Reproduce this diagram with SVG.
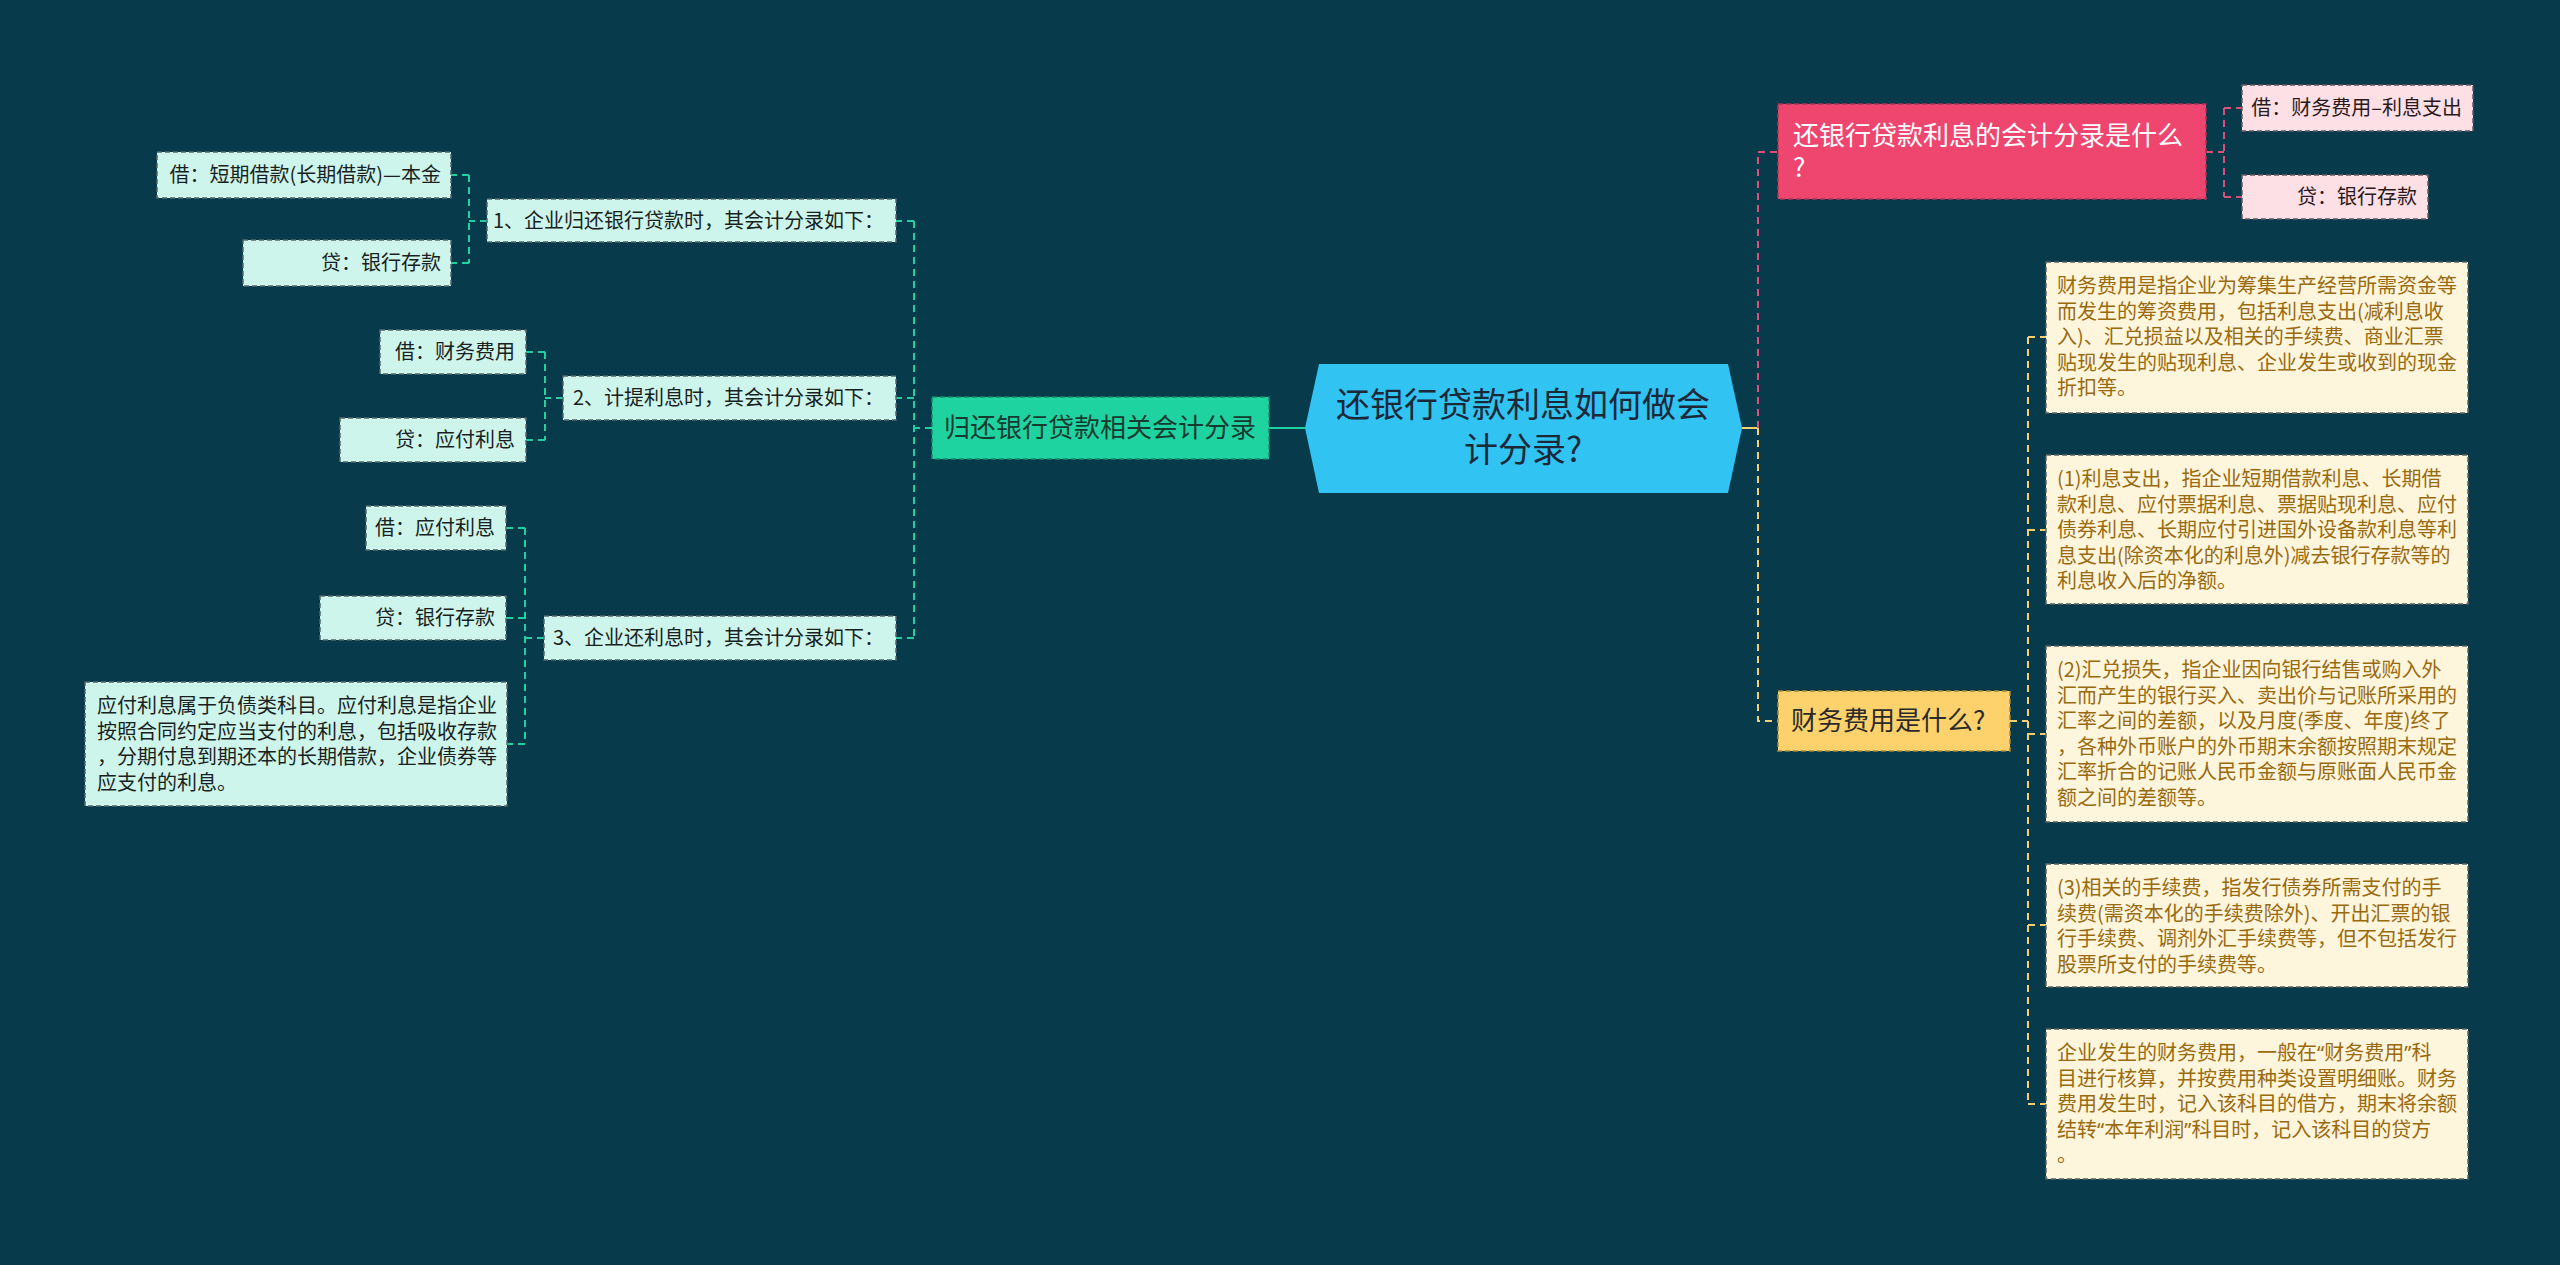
<svg xmlns="http://www.w3.org/2000/svg" width="2560" height="1265" viewBox="0 0 2560 1265">
<style>
text{font-family:"Noto Sans CJK SC","Noto Sans",sans-serif;}
.q{font-family:"Noto Sans",sans-serif;}
.cy rect{fill:#cdf5ec;stroke:#55676b;stroke-width:1.5;stroke-dasharray:5 3;}
.cy text{font-size:20px;fill:#1a1f22;}
.cr rect{fill:#fdf5dc;stroke:#5e6460;stroke-width:1.5;stroke-dasharray:5 3;}
.cr text{font-size:20px;fill:#9a6a0e;}
.pk rect{fill:#fde0e6;stroke:#6a5a60;stroke-width:1.5;stroke-dasharray:5 3;}
.pk text{font-size:20px;fill:#2a1a20;}
.tl{fill:none;stroke:#22cfa2;stroke-width:2;stroke-dasharray:7 5;}
.pl{fill:none;stroke:#dc4f78;stroke-width:2;stroke-dasharray:7 5;}
.yl{fill:none;stroke:#f6d070;stroke-width:2;stroke-dasharray:7 5;}
</style>
<rect x="0" y="0" width="2560" height="1265" fill="#073a4b"/>

<g id="connectors">
  <line x1="1269" y1="428" x2="1305" y2="428" stroke="#22cfa2" stroke-width="2"/>
  <line x1="1742" y1="428" x2="1758" y2="428" stroke="#f6d070" stroke-width="2"/>
  <path class="tl" d="M932 428H914M914 221V638M914 221H896M914 398H896M914 638H896"/>
  <path class="tl" d="M487 221H469M469 175V263M469 175H451M469 263H451"/>
  <path class="tl" d="M563 398H545M545 352V440M545 352H526M545 440H526"/>
  <path class="tl" d="M544 638H525M525 528V744M525 528H506M525 618H506M525 744H507"/>
  <path class="pl" d="M1758 428V152H1778M2206 152H2224M2224 108V197M2224 108H2242M2224 197H2242"/>
  <path class="yl" d="M1758 428V721H1778M2010 721H2028M2028 337V1104M2028 337H2046M2028 530H2046M2028 734H2046M2028 925H2046M2028 1104H2046"/>
</g>

<g id="central">
  <polygon points="1305,428 1319,364 1728,364 1742,428 1728,493 1319,493" fill="#31c3f2"/>
  <text x="1523" y="417" font-size="34" fill="#1b2838" text-anchor="middle">还银行贷款利息如何做会</text>
  <text x="1523" y="462" font-size="34" fill="#1b2838" text-anchor="middle">计分录?</text>
</g>

<g id="n-green">
  <rect x="932" y="397" width="337" height="62" fill="#1fd3a0" stroke="#178a6c" stroke-width="1.5" stroke-dasharray="5 3"/>
  <text x="1100" y="437" font-size="26" fill="#163a30" text-anchor="middle">归还银行贷款相关会计分录</text>
</g>

<g id="n-l1" class="cy"><rect x="487" y="199" width="409" height="43"/><text x="884" y="228" text-anchor="end">1、企业归还银行贷款时，其会计分录如下：</text></g>
<g id="n-l2" class="cy"><rect x="563" y="376" width="333" height="44"/><text x="884" y="405" text-anchor="end">2、计提利息时，其会计分录如下：</text></g>
<g id="n-l3" class="cy"><rect x="544" y="616" width="352" height="44"/><text x="884" y="645" text-anchor="end">3、企业还利息时，其会计分录如下：</text></g>

<g id="n-l1a" class="cy"><rect x="157" y="152" width="294" height="46"/><text x="441" y="182" text-anchor="end">借：短期借款(长期借款)—本金</text></g>
<g id="n-l1b" class="cy"><rect x="243" y="240" width="208" height="46"/><text x="441" y="270" text-anchor="end">贷：银行存款</text></g>
<g id="n-l2a" class="cy"><rect x="380" y="330" width="146" height="44"/><text x="515" y="359" text-anchor="end">借：财务费用</text></g>
<g id="n-l2b" class="cy"><rect x="340" y="418" width="186" height="44"/><text x="515" y="447" text-anchor="end">贷：应付利息</text></g>
<g id="n-l3a" class="cy"><rect x="366" y="506" width="140" height="44"/><text x="495" y="535" text-anchor="end">借：应付利息</text></g>
<g id="n-l3b" class="cy"><rect x="320" y="596" width="186" height="44"/><text x="495" y="625" text-anchor="end">贷：银行存款</text></g>
<g id="n-l3c" class="cy"><rect x="85" y="682" width="422" height="124"/>
  <text x="97" y="713">应付利息属于负债类科目。应付利息是指企业</text>
  <text x="97" y="738.5">按照合同约定应当支付的利息，包括吸收存款</text>
  <text x="97" y="764">，分期付息到期还本的长期借款，企业债券等</text>
  <text x="97" y="789.5">应支付的利息。</text>
</g>

<g id="n-pink">
  <rect x="1778" y="104" width="428" height="95" fill="#ef4670" stroke="#a83658" stroke-width="1.5" stroke-dasharray="5 3"/>
  <text x="1793" y="145" font-size="26" fill="#ffffff">还银行贷款利息的会计分录是什么</text>
  <text x="1793" y="177" font-size="26" fill="#ffffff">?</text>
</g>
<g id="n-pa" class="pk"><rect x="2242" y="85" width="231" height="46"/><text x="2462" y="115" text-anchor="end">借：财务费用–利息支出</text></g>
<g id="n-pb" class="pk"><rect x="2242" y="175" width="186" height="44"/><text x="2417" y="204" text-anchor="end">贷：银行存款</text></g>

<g id="n-yellow">
  <rect x="1778" y="691" width="232" height="60" fill="#fdd26c" stroke="#a88a3c" stroke-width="1.5" stroke-dasharray="5 3"/>
  <text x="1791" y="730" font-size="26" fill="#2a2a2a">财务费用是什么?</text>
</g>

<g id="n-ya" class="cr"><rect x="2046" y="262" width="422" height="151"/>
  <text x="2057" y="293">财务费用是指企业为筹集生产经营所需资金等</text>
  <text x="2057" y="318.5">而发生的筹资费用，包括利息支出(减利息收</text>
  <text x="2057" y="344">入)、汇兑损益以及相关的手续费、商业汇票</text>
  <text x="2057" y="369.5">贴现发生的贴现利息、企业发生或收到的现金</text>
  <text x="2057" y="395">折扣等。</text>
</g>
<g id="n-yb" class="cr"><rect x="2046" y="455" width="422" height="149"/>
  <text x="2057" y="486">(1)利息支出，指企业短期借款利息、长期借</text>
  <text x="2057" y="511.5">款利息、应付票据利息、票据贴现利息、应付</text>
  <text x="2057" y="537">债券利息、长期应付引进国外设备款利息等利</text>
  <text x="2057" y="562.5">息支出(除资本化的利息外)减去银行存款等的</text>
  <text x="2057" y="588">利息收入后的净额。</text>
</g>
<g id="n-yc" class="cr"><rect x="2046" y="646" width="422" height="176"/>
  <text x="2057" y="677">(2)汇兑损失，指企业因向银行结售或购入外</text>
  <text x="2057" y="702.5">汇而产生的银行买入、卖出价与记账所采用的</text>
  <text x="2057" y="728">汇率之间的差额，以及月度(季度、年度)终了</text>
  <text x="2057" y="753.5">，各种外币账户的外币期末余额按照期末规定</text>
  <text x="2057" y="779">汇率折合的记账人民币金额与原账面人民币金</text>
  <text x="2057" y="804.5">额之间的差额等。</text>
</g>
<g id="n-yd" class="cr"><rect x="2046" y="864" width="422" height="123"/>
  <text x="2057" y="895">(3)相关的手续费，指发行债券所需支付的手</text>
  <text x="2057" y="920.5">续费(需资本化的手续费除外)、开出汇票的银</text>
  <text x="2057" y="946">行手续费、调剂外汇手续费等，但不包括发行</text>
  <text x="2057" y="971.5">股票所支付的手续费等。</text>
</g>
<g id="n-ye" class="cr"><rect x="2046" y="1029" width="422" height="150"/>
  <text x="2057" y="1060">企业发生的财务费用，一般在<tspan class="q">“</tspan>财务费用<tspan class="q">”</tspan>科</text>
  <text x="2057" y="1085.5">目进行核算，并按费用种类设置明细账。财务</text>
  <text x="2057" y="1111">费用发生时，记入该科目的借方，期末将余额</text>
  <text x="2057" y="1136.5">结转<tspan class="q">“</tspan>本年利润<tspan class="q">”</tspan>科目时，记入该科目的贷方</text>
  <text x="2057" y="1162">。</text>
</g>
</svg>
